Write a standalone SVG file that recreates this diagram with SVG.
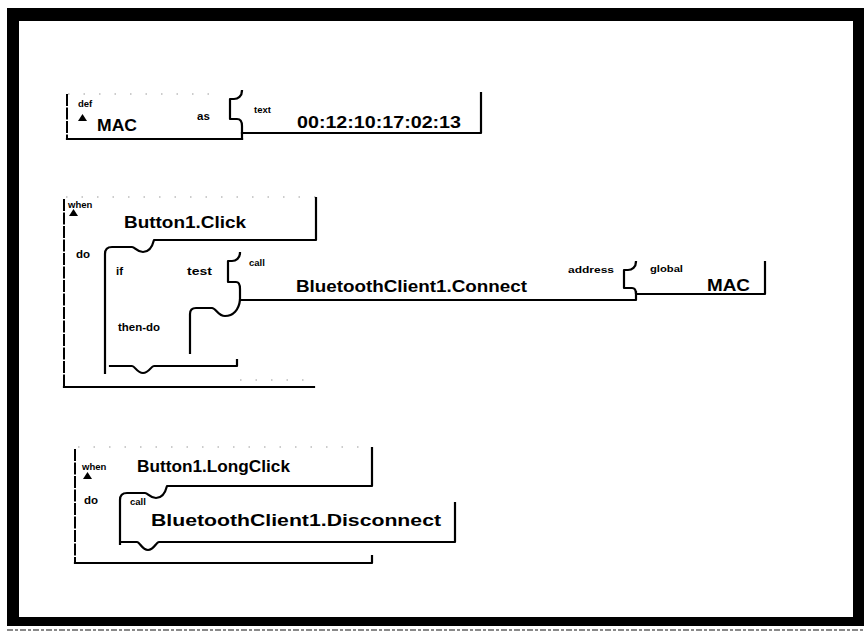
<svg xmlns="http://www.w3.org/2000/svg" width="864" height="634" viewBox="0 0 864 634">
<style>
.ln{fill:none;stroke:#000;stroke-width:2.2;stroke-linejoin:round;stroke-linecap:square}
.ed{fill:none;stroke:#000;stroke-width:2;stroke-dasharray:12 1.5}
.dot{fill:none;stroke:#999;stroke-width:1.2;stroke-dasharray:1.5 14}
.big{font-family:"Liberation Sans",Arial,sans-serif;font-weight:bold;font-size:16.5px;fill:#000}
.sm{font-family:"Liberation Sans",Arial,sans-serif;font-weight:bold;font-size:9.5px;fill:#000}
.md{font-family:"Liberation Sans",Arial,sans-serif;font-weight:bold;font-size:11.5px;fill:#000}
.tri{fill:#000}
</style>
<rect x="0" y="0" width="864" height="634" fill="#fff"/>
<g id="frame">
<rect x="7" y="8" width="857" height="618" fill="#000"/>
<rect x="19" y="21" width="834" height="596" fill="#fff"/>
<line x1="7" y1="630" x2="864" y2="630" stroke="#888" stroke-width="2" stroke-dasharray="6 2 3 2"/>
</g>
<g id="def-MAC">
<line class="dot" x1="68" y1="94" x2="215" y2="94"/>
<line class="ed" x1="67" y1="94" x2="67" y2="139"/>
<line class="ln" x1="67" y1="139" x2="242" y2="139"/>
<path class="ln" d="M242 91 C242 96 238 99 234 99 L230 99 L230 119 L237 119 C241 119 242 122 242 126 L242 139"/>
<path class="ln" d="M242 133 L481 133 L481 93"/>
<text class="sm" x="78" y="107">def</text>
<polygon class="tri" points="78,121 82.5,114 87,121"/>
<text class="big" x="97" y="131" textLength="40" lengthAdjust="spacingAndGlyphs">MAC</text>
<text class="md" x="197" y="120">as</text>
<text class="sm" x="254" y="113">text</text>
<text class="big" x="297" y="128" textLength="164" lengthAdjust="spacingAndGlyphs">00:12:10:17:02:13</text>
</g>
<g id="when-Button1-Click">
<line class="dot" x1="66" y1="197" x2="316" y2="197"/>
<line class="ed" x1="64" y1="199" x2="64" y2="387"/>
<line class="ln" x1="64" y1="387" x2="314" y2="387"/>
<line class="dot" x1="240" y1="380" x2="312" y2="380"/>
<path class="ln" d="M316 198 L316 240 L154 240 C152 248 149 252 143 252 C137 252 135 247 132 247 L112 247 Q105 247 105 254 L105 373"/>
<path class="ln" d="M110 366 L132 366 C135 366 137 373 143 373 C149 373 151 366 154 366 L237 366 L237 360"/>
<path class="ln" d="M240 300 C239 310 233 316 225 316 C218 316 216 308 212 308 L196 308 Q190 308 190 314 L190 353"/>
<text class="sm" x="68" y="208">when</text>
<polygon class="tri" points="69,216 73.5,209 78,216"/>
<text class="big" x="124" y="228" textLength="122" lengthAdjust="spacingAndGlyphs">Button1.Click</text>
<text class="md" x="76" y="258">do</text>
<text class="md" x="116" y="275">if</text>
<text class="md" x="187" y="275" textLength="25" lengthAdjust="spacingAndGlyphs">test</text>
<text class="md" x="118" y="331" textLength="42" lengthAdjust="spacingAndGlyphs">then-do</text>
</g>
<g id="call-Connect">
<path class="ln" d="M240 253 C240 258 236 261 232 261 L228 261 L228 282 L236 282 C239 282 240 285 240 289 L240 300 L636 300 L636 292"/>
<text class="sm" x="249" y="266">call</text>
<text class="big" x="296" y="292" textLength="231" lengthAdjust="spacingAndGlyphs">BluetoothClient1.Connect</text>
<text class="sm" x="568" y="273" textLength="46" lengthAdjust="spacingAndGlyphs">address</text>
</g>
<g id="global-MAC">
<path class="ln" d="M636 262 C636 267 632 270 628 270 L624 270 L624 288 L632 288 C635 288 636 291 636 294 L765 294 L765 262"/>
<text class="sm" x="650" y="272" textLength="33" lengthAdjust="spacingAndGlyphs">global</text>
<text class="big" x="707" y="291" textLength="43" lengthAdjust="spacingAndGlyphs">MAC</text>
</g>
<g id="when-Button1-LongClick">
<line class="dot" x1="78" y1="447" x2="372" y2="447"/>
<line class="ed" x1="75" y1="449" x2="75" y2="563"/>
<path class="ln" d="M75 563 L372 563 L372 556"/>
<path class="ln" d="M372 448 L372 486 L167 486 C165 494 162 498 156 498 C150 498 148 493 145 493 L127 493 Q120 493 120 500 L120 544"/>
<text class="sm" x="82" y="470">when</text>
<polygon class="tri" points="83,479 87.5,472 92,479"/>
<text class="big" x="137" y="472" textLength="153" lengthAdjust="spacingAndGlyphs">Button1.LongClick</text>
<text class="md" x="84" y="504">do</text>
</g>
<g id="call-Disconnect">
<path class="ln" d="M122 542 L137 542 C140 542 142 550 148 550 C154 550 156 542 159 542 L455 542 L455 503"/>
<text class="sm" x="130" y="505">call</text>
<text class="big" x="151" y="526" textLength="290" lengthAdjust="spacingAndGlyphs">BluetoothClient1.Disconnect</text>
</g>
</svg>
